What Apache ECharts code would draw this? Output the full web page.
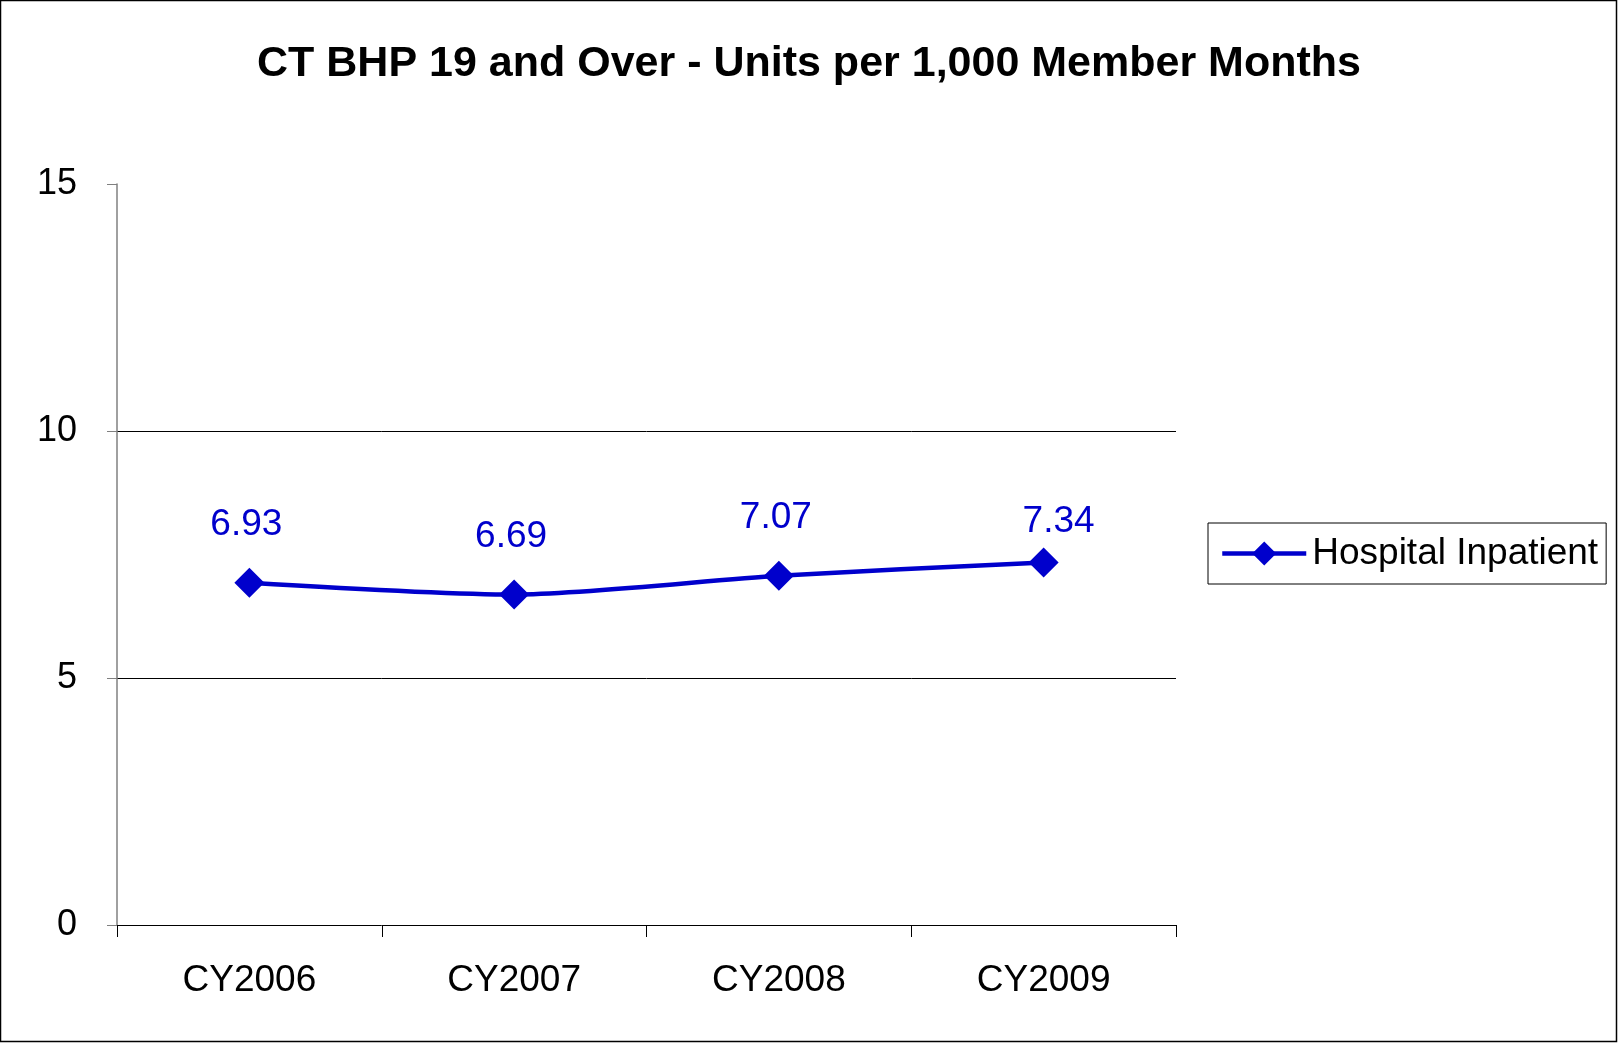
<!DOCTYPE html>
<html>
<head>
<meta charset="utf-8">
<script src="https://cdn.jsdelivr.net/npm/echarts@6/dist/echarts.min.js"></script>
<style>
  html, body { margin: 0; padding: 0; background: #fff; }
  #chart { width: 1618px; height: 1043px; }
</style>
</head>
<body>
<div id="chart"></div>
<script>
// chart data
var years = ['CY2006', 'CY2007', 'CY2008', 'CY2009'];
var inpatient = [6.93, 6.69, 7.07, 7.34];
var seriesName = 'Hospital Inpatient';
var yTicks = [0, 5, 10, 15];

var blue = '#0000CC';
var font = "'Liberation Sans', Arial, sans-serif";

// the last label sits a bit lower and to the right in the original
var seriesData = inpatient.map(function (v, i) {
  if (i === inpatient.length - 1) {
    return { value: v, label: { offset: [15, 17] } };
  }
  return { value: v, label: { offset: [-3, 0] } };
});

var chart = echarts.init(document.getElementById('chart'));

chart.setOption({
  animation: false,
  backgroundColor: '#fff',
  title: {
    text: 'CT BHP 19 and Over - Units per 1,000 Member Months',
    left: 'center',
    top: 38,
    textStyle: { fontFamily: font, fontSize: 43, fontWeight: 'bold', color: '#000' }
  },
  graphic: [{
    type: 'rect',
    shape: { x: 0.5, y: 0.5, width: 1616, height: 1041 },
    style: { fill: 'none', stroke: '#000', lineWidth: 1.5 },
    silent: true
  }],
  legend: {
    data: [seriesName],
    left: 1208,
    top: 523,
    padding: [12, 8, 12, 12],
    itemWidth: 84,
    itemHeight: 30,
    itemGap: 0,
    borderColor: '#000',
    borderWidth: 1,
    lineStyle: { width: 4.5 },
    textStyle: { fontFamily: font, fontSize: 37, color: '#000', padding: [0, 0, 0, 1] }
  },
  grid: { left: 117, right: 442, top: 184, bottom: 118 },
  xAxis: {
    type: 'category',
    data: years,
    boundaryGap: true,
    axisLine: { lineStyle: { color: '#000', width: 1 } },
    axisTick: { show: true, length: 12, inside: false, lineStyle: { color: '#000' } },
    axisLabel: { fontFamily: font, fontSize: 37, color: '#000', margin: 37 }
  },
  yAxis: {
    type: 'value',
    min: yTicks[0],
    max: yTicks[yTicks.length - 1],
    interval: 5,
    axisLine: { show: true, lineStyle: { color: '#808080', width: 1.5 } },
    axisTick: { show: true, length: 10, lineStyle: { color: '#808080' } },
    axisLabel: { fontFamily: font, fontSize: 36, color: '#000', margin: 40 },
    splitLine: { show: true, showMaxLine: false, showMinLine: false, lineStyle: { color: '#000', width: 1 } }
  },
  series: [{
    name: seriesName,
    type: 'line',
    data: seriesData,
    smooth: 0.25,
    symbol: 'diamond',
    symbolSize: 30,
    lineStyle: { color: blue, width: 4.5 },
    itemStyle: { color: blue },
    label: {
      show: true,
      position: 'top',
      distance: 24,
      fontFamily: font,
      fontSize: 37,
      color: blue,
      formatter: function (p) { return p.value.toFixed(2); }
    }
  }]
});
</script>
</body>
</html>
